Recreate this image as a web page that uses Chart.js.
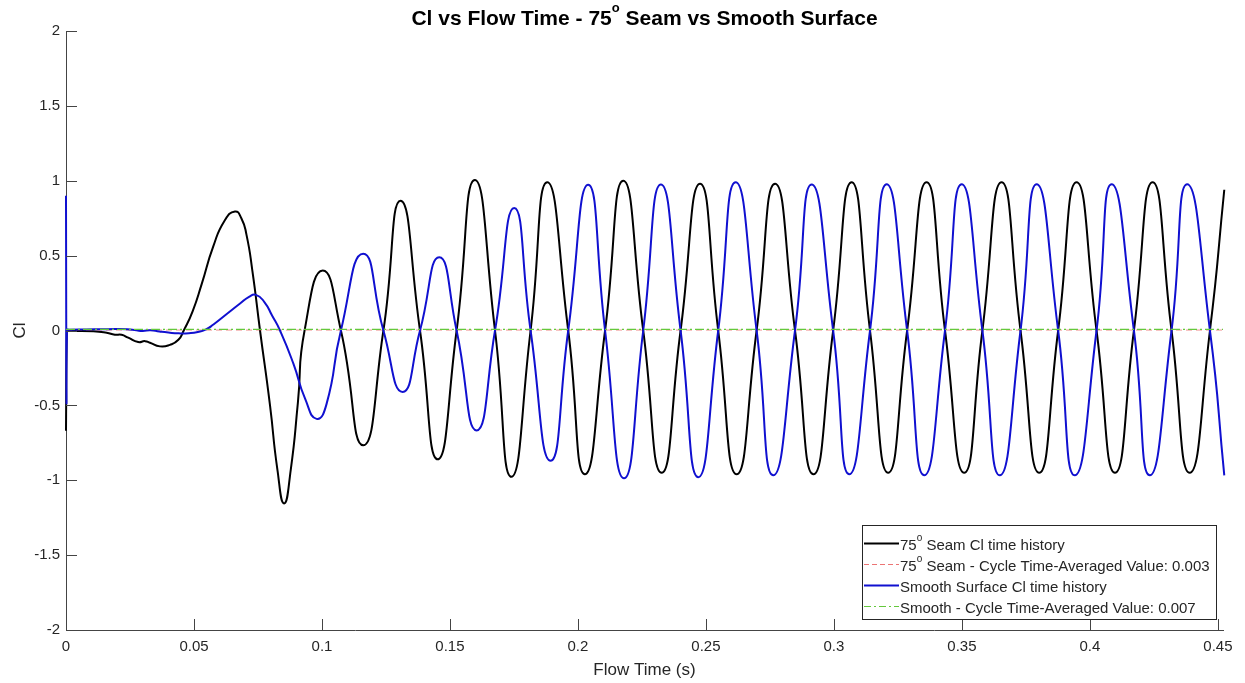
<!DOCTYPE html>
<html>
<head>
<meta charset="utf-8">
<script src="https://cdn.jsdelivr.net/npm/chart.js@4.4.1/dist/chart.umd.min.js"></script>
<style>
  html, body { margin: 0; padding: 0; background: #ffffff; }
  canvas { display: block; }
</style>
</head>
<body>
<canvas id="c" width="1245" height="683"></canvas>
<script>
// ---------------- data ----------------
const seamTime = [
  0, 0.0003, 0.0012, 0.0107, 0.0159, 0.0191, 0.0217, 0.0243, 0.0282, 0.0309, 0.0328, 0.0367, 0.0406, 0.0439,
  0.046, 0.0495, 0.053, 0.0575, 0.062, 0.066, 0.0685, 0.0705, 0.0728, 0.0758, 0.0797, 0.0826, 0.0852,
  0.0878, 0.0906, 0.0932, 0.1003, 0.1074, 0.1161, 0.124, 0.1307, 0.1383, 0.1452, 0.1526, 0.1597, 0.1676,
  0.174, 0.1815, 0.188, 0.1962, 0.2027, 0.2106, 0.2177, 0.2255, 0.2327, 0.2401, 0.2477, 0.2548, 0.262,
  0.2698, 0.277, 0.2848, 0.292, 0.2997, 0.3069, 0.3141, 0.3212, 0.3286, 0.3362, 0.3434, 0.3509, 0.358,
  0.3655, 0.3729, 0.3802, 0.3876, 0.3948, 0.4026, 0.4098, 0.4172, 0.4245, 0.4319, 0.439, 0.4469, 0.4525
];
const seamCl = [
  -0.67, 0, -0.002, -0.005, -0.015, -0.028, -0.029, -0.048, -0.077, -0.071, -0.082, -0.106, -0.096, -0.062,
  0, 0.13, 0.31, 0.56, 0.735, 0.795, 0.75, 0.64, 0.40, 0, -0.50, -0.93, -1.155,
  -0.93, -0.48, 0, 0.40, 0, -0.767, 0, 0.867, 0, -0.86, 0, 1.005, 0,
  -0.977, 0, 0.99, 0, -0.96, 0, 1.0, 0, -0.95, 0, 0.98, 0, -0.96,
  0, 0.98, 0, -0.96, 0, 0.99, 0, -0.95, 0, 0.99, 0, -0.95, 0,
  0.99, 0, -0.95, 0, 0.99, 0, -0.95, 0, 0.99, 0, -0.95, 0, 0.94
];
const smoothTime = [
  0, 0.0002, 0.0004, 0.0012, 0.008, 0.016, 0.024, 0.0275, 0.030, 0.033, 0.0365, 0.040, 0.044, 0.048, 0.0515,
  0.0545, 0.0576, 0.0628, 0.068, 0.0715, 0.0742, 0.0775, 0.0805, 0.0836, 0.0888, 0.0934, 0.0979, 0.1018,
  0.1074, 0.1161, 0.124, 0.1315, 0.1383, 0.1458, 0.1526, 0.1604, 0.1676, 0.1751, 0.1815, 0.1893, 0.1962,
  0.204, 0.2106, 0.218, 0.2255, 0.2324, 0.2401, 0.247, 0.2548, 0.2616, 0.2698, 0.2763, 0.2848, 0.2913,
  0.2997, 0.306, 0.3141, 0.3206, 0.3286, 0.3353, 0.3434, 0.3499, 0.358, 0.3648, 0.3729, 0.3792, 0.3876,
  0.3941, 0.4026, 0.4085, 0.4172, 0.4234, 0.4319, 0.438, 0.4469, 0.4525
];
const smoothCl = [
  0.9, -0.46, 0.004, 0.005, 0.007, 0.009, 0.009, 0.001, -0.003, 0.002, -0.007, -0.014, -0.019, -0.018, -0.01,
  0.006, 0.04, 0.11, 0.18, 0.225, 0.238, 0.19, 0.10, 0, -0.22, -0.455, -0.59, -0.49,
  0, 0.513, 0, -0.41, 0, 0.489, 0, -0.667, 0, 0.818, 0, -0.87, 0,
  0.973, 0, -0.987, 0, 0.975, 0, -0.98, 0, 0.99, 0, -0.967, 0, 0.975,
  0, -0.96, 0, 0.977, 0, -0.967, 0, 0.977, 0, -0.967, 0, 0.977, 0,
  -0.967, 0, 0.977, 0, -0.967, 0, 0.977, 0, -0.967
];
const seamAverage = 0.003;
const smoothAverage = 0.007;
const xRange = [0, 0.452];
const yRange = [-2, 2];
const xTicks = [0, 0.05, 0.1, 0.15, 0.2, 0.25, 0.3, 0.35, 0.4, 0.45];
const xTickLabels = ['0', '0.05', '0.1', '0.15', '0.2', '0.25', '0.3', '0.35', '0.4', '0.45'];
const yTicks = [-2, -1.5, -1, -0.5, 0, 0.5, 1, 1.5, 2];
const yTickLabels = ['-2', '-1.5', '-1', '-0.5', '0', '0.5', '1', '1.5', '2'];
// text pieces: [normal, superscript, normal]
const titleParts = ['Cl vs Flow Time - 75', 'o', ' Seam vs Smooth Surface'];
const legendParts = [
  ['75', 'o', ' Seam Cl time history'],
  ['75', 'o', ' Seam - Cycle Time-Averaged Value: 0.003'],
  ['Smooth Surface Cl time history', '', ''],
  ['Smooth - Cycle Time-Averaged Value: 0.007', '', '']
];
const xTitle = 'Flow Time (s)';
const yTitle = 'Cl';

// ---------------- styling ----------------
const FONT = "'Liberation Sans', Arial, Helvetica, sans-serif";
const AXIS = '#262626';
const BLUE = '#1010d0';
const RED = 'rgba(230,70,70,0.75)';
const GREEN = 'rgb(100,200,60)';
const TICK_LEN = 11;

const pts = (xs, ys) => xs.map((t, i) => ({ x: t, y: ys[i] }));

const legendStyles = [
  { color: '#000000', width: 2, dash: [] },
  { color: RED, width: 1, dash: [5, 3] },
  { color: BLUE, width: 2, dash: [] },
  { color: GREEN, width: 1, dash: [7, 3, 2, 3] }
];

function drawParts(ctx, parts, x, y, size, supSize, rise, bold, align) {
  const f1 = (bold ? 'bold ' : '') + size + 'px ' + FONT;
  const f2 = (bold ? 'bold ' : '') + supSize + 'px ' + FONT;
  ctx.font = f1; const w0 = ctx.measureText(parts[0]).width; const w2 = ctx.measureText(parts[2]).width;
  ctx.font = f2; const w1 = ctx.measureText(parts[1]).width;
  let cx = align === 'center' ? x - (w0 + w1 + w2) / 2 : x;
  ctx.textAlign = 'left'; ctx.textBaseline = 'alphabetic';
  ctx.font = f1; ctx.fillText(parts[0], cx, y); cx += w0;
  if (parts[1]) { ctx.font = f2; ctx.fillText(parts[1], cx, y - rise); }
  cx += w1;
  if (parts[2]) { ctx.font = f1; ctx.fillText(parts[2], cx, y); }
}

const decor = {
  id: 'decor',
  afterDraw(chart) {
    const { ctx, chartArea: a, scales: { x, y } } = chart;
    ctx.save();
    // inward tick marks
    ctx.strokeStyle = '#444444'; ctx.lineWidth = 1; ctx.setLineDash([]);
    ctx.beginPath();
    xTicks.forEach(v => {
      const px = Math.round(x.getPixelForValue(v)) + 0.5;
      ctx.moveTo(px, a.bottom); ctx.lineTo(px, a.bottom - TICK_LEN);
    });
    yTicks.forEach(v => {
      const py = Math.round(y.getPixelForValue(v)) + 0.5;
      ctx.moveTo(a.left, py); ctx.lineTo(a.left + TICK_LEN, py);
    });
    ctx.stroke();

    // title
    ctx.fillStyle = '#000000';
    drawParts(ctx, titleParts, (a.left + a.right) / 2, 25, 21, 13, 13, true, 'center');

    // legend box
    const bx = 862.5, by = 525.5, bw = 354, bh = 94;
    ctx.fillStyle = '#ffffff';
    ctx.fillRect(bx, by, bw, bh);
    ctx.strokeStyle = AXIS; ctx.lineWidth = 1;
    ctx.strokeRect(bx, by, bw, bh);
    const baselines = [550, 571, 592, 613];
    legendParts.forEach((parts, i) => {
      const s = legendStyles[i];
      const ly = baselines[i] - 6.5;
      ctx.beginPath();
      ctx.strokeStyle = s.color; ctx.lineWidth = s.width; ctx.setLineDash(s.dash);
      ctx.moveTo(864, ly); ctx.lineTo(899, ly); ctx.stroke();
      ctx.setLineDash([]);
      ctx.fillStyle = AXIS;
      drawParts(ctx, parts, 900, baselines[i], 15, 10, 9.5, false, 'left');
    });
    ctx.restore();
  }
};

Chart.defaults.font.family = FONT;
Chart.defaults.color = AXIS;

new Chart(document.getElementById('c'), {
  type: 'line',
  data: {
    datasets: [
      { label: 'Smooth - Cycle Time-Averaged Value: 0.007', data: pts(xRange, [smoothAverage, smoothAverage]),
        borderColor: GREEN, borderWidth: 1.2, borderDash: [9, 3, 2, 3], pointRadius: 0, tension: 0 },
      { label: 'Smooth Surface Cl time history', data: pts(smoothTime, smoothCl), clip: false,
        borderColor: BLUE, borderWidth: 2, pointRadius: 0, tension: 0.55 },
      { label: '75° Seam - Cycle Time-Averaged Value: 0.003', data: pts(xRange, [seamAverage, seamAverage]),
        borderColor: RED, borderWidth: 0.8, borderDash: [6, 4], pointRadius: 0, tension: 0 },
      { label: '75° Seam Cl time history', data: pts(seamTime, seamCl), clip: false,
        borderColor: '#000000', borderWidth: 2, pointRadius: 0, tension: 0.55 }
    ]
  },
  options: {
    responsive: false,
    animation: false,
    devicePixelRatio: 1,
    layout: { padding: { top: 31, right: 22, left: 0, bottom: 0 } },
    plugins: { legend: { display: false }, title: { display: false }, tooltip: { enabled: false } },
    elements: { line: { borderCapStyle: 'butt', borderJoinStyle: 'round' } },
    scales: {
      x: {
        type: 'linear', min: xRange[0], max: xRange[1],
        grid: { display: false, drawTicks: false },
        border: { display: true, color: '#444444', width: 1 },
        afterBuildTicks: s => { s.ticks = xTicks.map(v => ({ value: v })); },
        afterFit: s => { s.height = 53; },
        ticks: {
          autoSkip: false, maxRotation: 0, padding: 8, color: AXIS,
          font: { size: 15 },
          callback: (v, i) => xTickLabels[i]
        },
        title: { display: true, text: xTitle, color: AXIS, font: { size: 17 }, padding: { top: 0, bottom: 2 } }
      },
      y: {
        type: 'linear', min: yRange[0], max: yRange[1],
        grid: { display: false, drawTicks: false },
        border: { display: true, color: '#444444', width: 1 },
        afterBuildTicks: s => { s.ticks = yTicks.map(v => ({ value: v })); },
        afterFit: s => { s.width = 66; },
        ticks: {
          autoSkip: false, padding: 6, color: AXIS,
          font: { size: 15 },
          callback: (v, i) => yTickLabels[i]
        },
        title: { display: true, text: yTitle, color: AXIS, font: { size: 17 }, padding: { top: 10, bottom: 0 } }
      }
    }
  },
  plugins: [decor]
});
</script>
</body>
</html>
